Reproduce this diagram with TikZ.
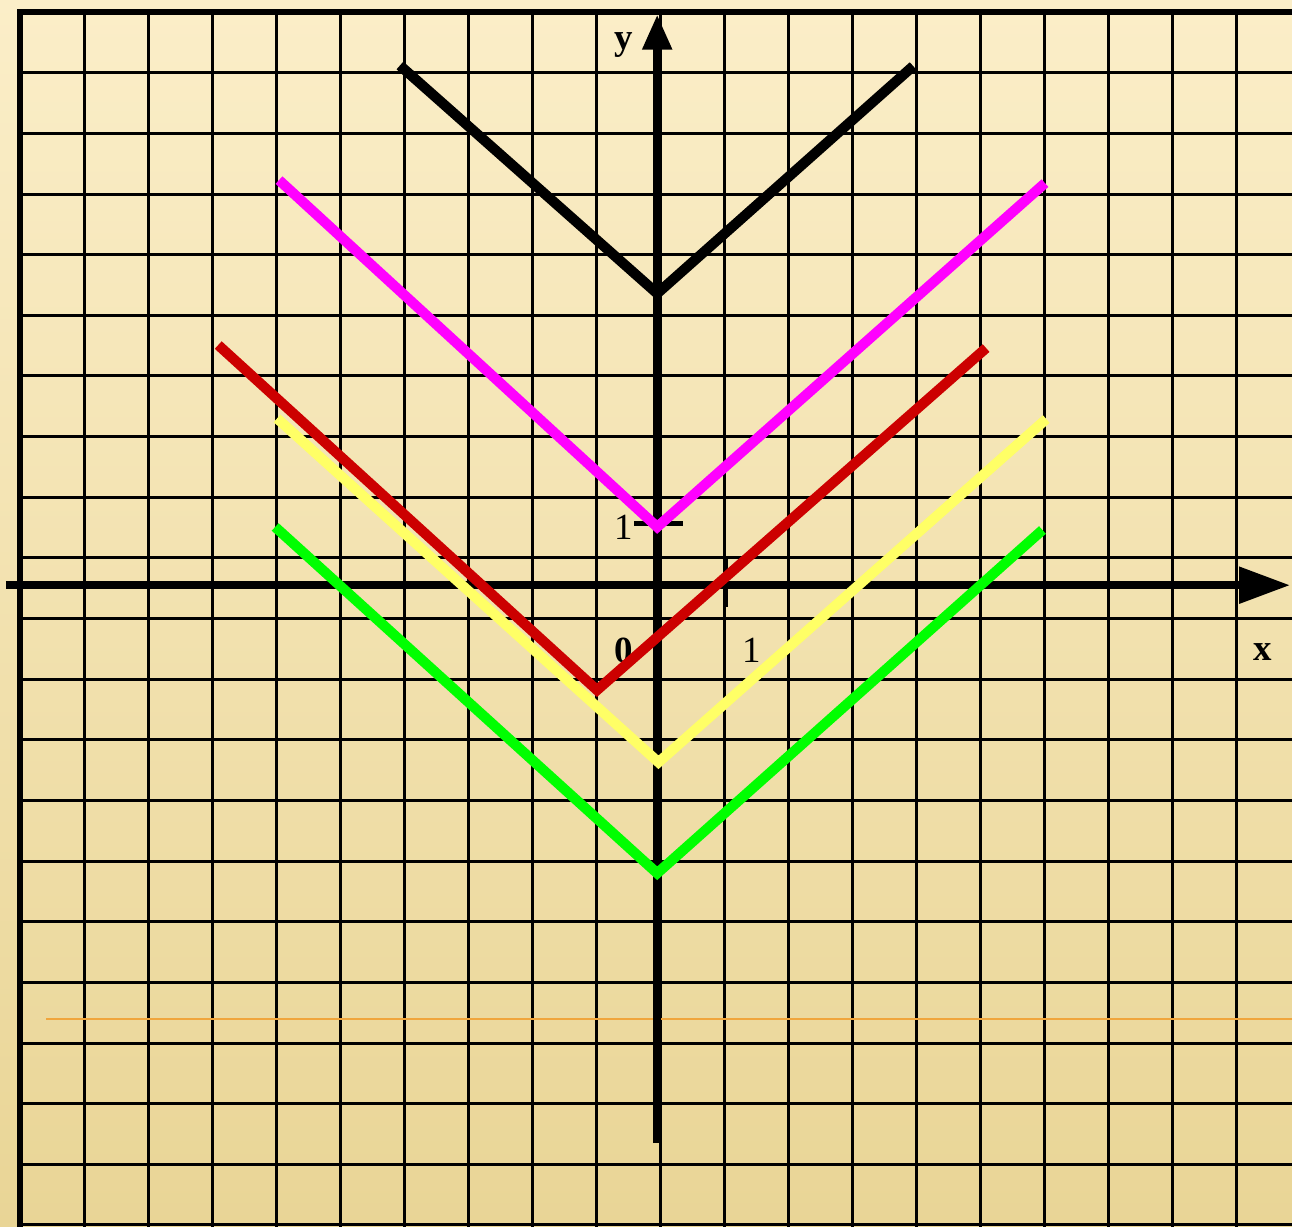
\documentclass[tikz,border=0pt]{standalone}
\usepackage{fontspec}
\setmainfont{Liberation Serif}
\usetikzlibrary{arrows.meta}
\definecolor{paper}{RGB}{251,238,200}
\definecolor{paperdark}{RGB}{233,213,150}
\definecolor{graphmagenta}{RGB}{255,0,255}
\definecolor{graphred}{RGB}{204,0,0}
\definecolor{graphyellow}{RGB}{255,255,102}
\definecolor{graphgreen}{RGB}{0,255,0}
\definecolor{guide}{RGB}{240,165,60}

\begin{document}
\begin{tikzpicture}[x=1.28cm, y=1.213cm,
  gridline/.style={black, line width=1.7pt},
  axis/.style={black, line width=4.5pt},
  tick/.style={black, line width=3pt},
  vgraph/.style={line width=5.8pt},
  lbl/.style={font=\fontsize{21}{24}\selectfont, inner sep=0pt}]
  % Page and background
  \useasboundingbox (-10.27,-10.58) rectangle (9.92,9.65);
  \clip (-10.27,-10.58) rectangle (9.92,9.65);
  \shade[top color=paper, bottom color=paperdark] (-10.27,-10.58) rectangle (9.92,9.65);

  % Squared paper
  \foreach \k in {1,...,19}
    \draw[gridline] (-9.95+\k, 9.45) -- (-9.95+\k, -10.58);
  \foreach \k in {1,...,20}
    \draw[gridline] (-9.95, 9.45-\k) -- (9.92, 9.45-\k);
  \draw[black, line width=3.4pt] (-9.95,-10.58) -- (-9.95,9.45) -- (9.92,9.45);

  % Thin orange rule
  \draw[guide, line width=1.1pt] (-9.55,-7.16) -- (9.92,-7.16);

  % Axes
  \draw[axis, -{Triangle[length=29pt, width=20pt]}] (-10.18,0) -- (9.89,0);
  \draw[axis, -{Triangle[length=20pt, width=16pt]}] (0,-9.2) -- (0,9.41);
  \node[lbl] (xname) at (9.47,-1.1) {\textbf{x}};
  \node[lbl] (yname) at (-0.53,8.9) {\textbf{y}};

  % Unit marks
  \draw[tick] (-0.36,1.02) -- (0.41,1.02);
  \draw[tick] (1.07,0.47) -- (1.07,-0.36);
  \node[lbl] (origin) at (-0.52,-1.07) {\textbf{0}};
  \node[lbl] (xone) at (1.47,-1.07) {1};
  \node[lbl] (yone) at (-0.53,0.96) {1};

  % Graphs y = |x| shifted
  \draw[vgraph, black] (-4.02,8.57) -- (0,4.81) -- (4.0,8.56);
  \draw[vgraph, graphmagenta] (-5.91,6.68) -- (0,0.96) -- (6.06,6.63);
  \draw[vgraph, graphyellow] (-5.94,2.75) -- (0.02,-2.92) -- (6.08,2.74);
  \draw[vgraph, graphred] (-6.86,3.96) -- (-0.94,-1.73) -- (5.14,3.91);
  \draw[vgraph, graphgreen] (-5.97,0.96) -- (0,-4.75) -- (6.02,0.91);
\end{tikzpicture}
\end{document}
